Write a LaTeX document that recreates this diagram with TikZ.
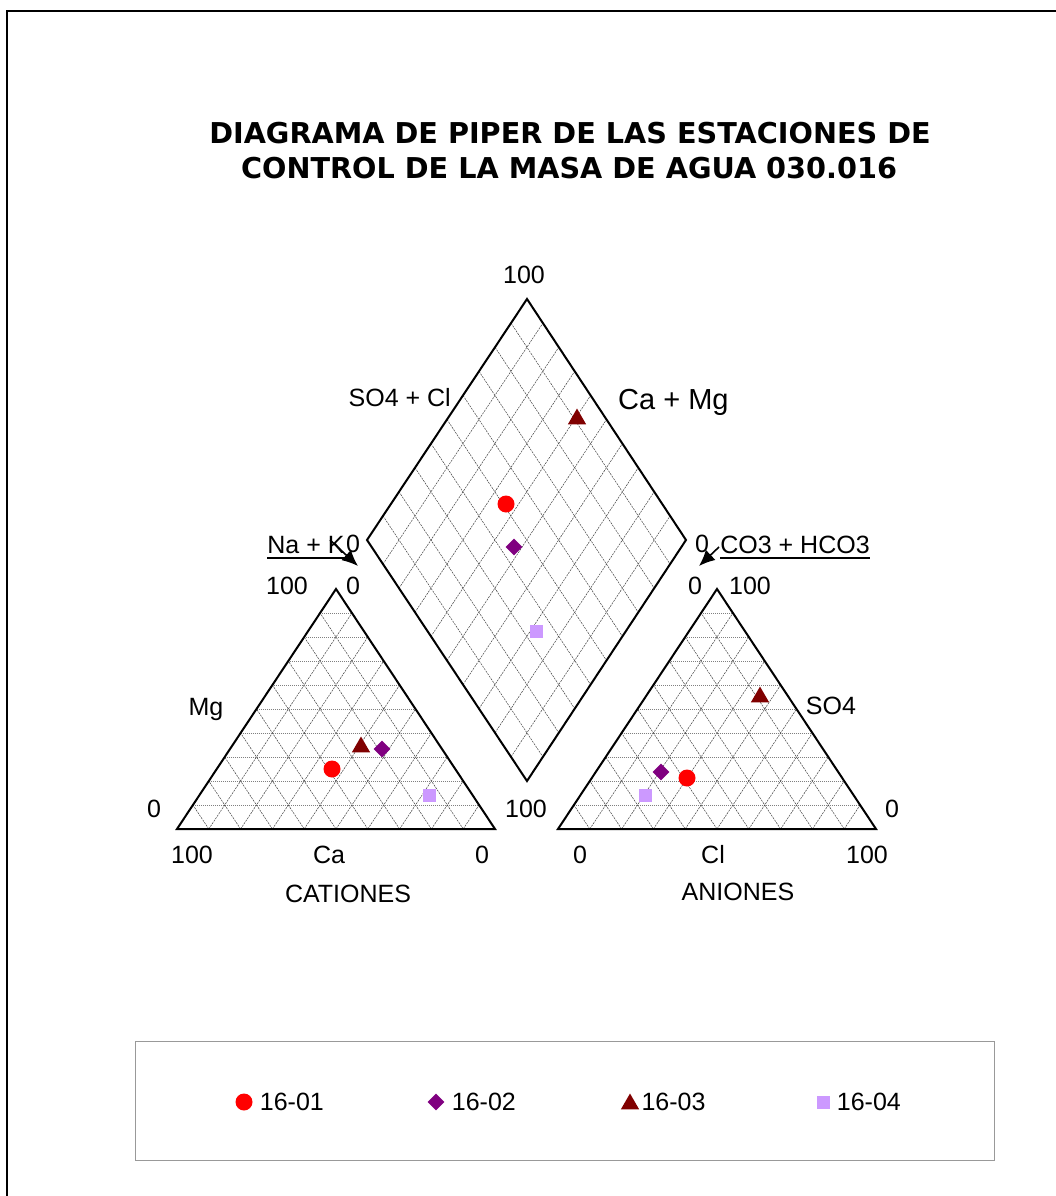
\documentclass[tikz,border=0pt]{standalone}
\usepackage{fontspec}
\setmainfont{Liberation Sans}
\newfontfamily\titlefont{DejaVu Sans}
\usetikzlibrary{positioning,arrows.meta}
\usetikzlibrary{calc}
\usetikzlibrary{shapes.geometric}

\definecolor{mkred}{RGB}{255,0,0}
\definecolor{mkpurple}{RGB}{128,0,128}
\definecolor{mkmaroon}{RGB}{128,0,0}
\definecolor{mklilac}{RGB}{204,153,255}

\begin{document}
\begin{tikzpicture}[
    x=1pt, y=-1pt,
    % Outlines of the three fields
    field/.style={
        line width=2pt,
        line join=miter
    },
    % Grid lines
    hgrid/.style={
        line width=0.5pt,
        draw=black!50,
        dash pattern=on 1pt off 1pt
    },
    dgrid/.style={
        line width=0.5pt,
        draw=black!75,
        dash pattern=on 2pt off 1pt
    },
    % Texts
    lbl/.style={
        font=\fontsize{25}{30}\selectfont,
        inner sep=0pt
    },
    title/.style={
        font=\titlefont\bfseries\fontsize{28.7}{34}\selectfont,
        inner sep=0pt
    },
    % Arrow
    arrow/.style={
        -{Latex[length=16pt,width=14pt]},
        line width=1.6pt
    },
    % Sample markers
    pt01/.style={circle, fill=mkred, inner sep=0pt, minimum size=17},
    pt02/.style={diamond, fill=mkpurple, inner sep=0pt, minimum size=17},
    pt03/.style={regular polygon, regular polygon sides=3, fill=mkmaroon, inner sep=0pt, minimum size=21},
    pt04/.style={rectangle, fill=mklilac, inner sep=0pt, minimum size=13}
]

\useasboundingbox (0,0) rectangle (1056,1196);

% Frame
\draw[line width=1.5pt] (7,1196) -- (7,11) -- (1056,11);

% Title
\node[title, anchor=base] (title1) at (570,143) {DIAGRAMA DE PIPER DE LAS ESTACIONES DE};
\node[title, anchor=base] (title2) at (569,178) {CONTROL DE LA MASA DE AGUA 030.016};

% Corners of the fields
\coordinate (cA) at (177,829);
\coordinate (cB) at (495,829);
\coordinate (cC) at (336,589);
\coordinate (aA) at (558,829);
\coordinate (aB) at (876,829);
\coordinate (aC) at (717,589);
\coordinate (dT) at (527,299);
\coordinate (dL) at (367,540);
\coordinate (dR) at (686,540);
\coordinate (dB) at (527,781);

% Grids
\foreach \k in {1,...,9} {
    % cations
    \draw[hgrid] ($(cA)!\k/10!(cC)$) -- ($(cB)!\k/10!(cC)$);
    \draw[dgrid] ($(cA)!\k/10!(cB)$) -- ($(cC)!\k/10!(cB)$);
    \draw[dgrid] ($(cB)!\k/10!(cA)$) -- ($(cC)!\k/10!(cA)$);
    % anions
    \draw[hgrid] ($(aA)!\k/10!(aC)$) -- ($(aB)!\k/10!(aC)$);
    \draw[dgrid] ($(aA)!\k/10!(aB)$) -- ($(aC)!\k/10!(aB)$);
    \draw[dgrid] ($(aB)!\k/10!(aA)$) -- ($(aC)!\k/10!(aA)$);
    % diamond
    \draw[dgrid] ($(dL)!\k/10!(dB)$) -- ($(dT)!\k/10!(dR)$);
    \draw[dgrid] ($(dL)!\k/10!(dT)$) -- ($(dB)!\k/10!(dR)$);
}

% Outlines
\draw[field] (cA) -- (cB) -- (cC) -- cycle;
\draw[field] (aA) -- (aB) -- (aC) -- cycle;
\draw[field] (dT) -- (dR) -- (dB) -- (dL) -- cycle;

% Diamond labels
\node[lbl, anchor=base] (dtop) at (524,283) {100};
\node[lbl, anchor=base east] (dso4cl) at (451,406) {SO4 + Cl};
\node[lbl, anchor=base west, font=\fontsize{29}{34}\selectfont] (dcamg) at (618,409) {Ca + Mg};
\node[lbl, anchor=base] (dleft) at (353,552) {0};
\node[lbl, anchor=base] (dright) at (702,552) {0};
\node[lbl, anchor=base] (dbottom) at (526,817) {100};

% Cation labels
\node[lbl, anchor=base] (nak) at (306,553) {Na + K};
\node[lbl, anchor=base] (c100top) at (287,594) {100};
\node[lbl, anchor=base] (c0top) at (353,594) {0};
\node[lbl, anchor=base] (cmg) at (206,715) {Mg};
\node[lbl, anchor=base] (c0left) at (154,817) {0};
\node[lbl, anchor=base] (c100) at (192,863) {100};
\node[lbl, anchor=base] (cca) at (329,863) {Ca};
\node[lbl, anchor=base] (c0) at (482,863) {0};
\node[lbl, anchor=base] (cations) at (348,902) {CATIONES};

% Anion labels
\node[lbl, anchor=base] (co3) at (795,553) {CO3 + HCO3};
\node[lbl, anchor=base] (a0top) at (695,594) {0};
\node[lbl, anchor=base] (a100top) at (750,594) {100};
\node[lbl, anchor=base] (aso4) at (831,714) {SO4};
\node[lbl, anchor=base] (a0right) at (892,817) {0};
\node[lbl, anchor=base] (a0) at (580,863) {0};
\node[lbl, anchor=base] (acl) at (713,863) {Cl};
\node[lbl, anchor=base] (a100) at (867,863) {100};
\node[lbl, anchor=base] (aniones) at (738,900) {ANIONES};

% Underlines and arrows
\draw[line width=1.6pt] ([yshift=-5pt]nak.base west) -- ([yshift=-5pt]nak.base east);
\draw[line width=1.6pt] ([yshift=-5pt]co3.base west) -- ([yshift=-5pt]co3.base east);
\coordinate (nakFrom) at (330,540);
\coordinate (nakTip) at (358,566);
\coordinate (co3From) at (719,547);
\coordinate (co3Tip) at (699,566);
\draw[arrow] (nakFrom) -- (nakTip);
\draw[arrow] (co3From) -- (co3Tip);

% Samples in the cation field
\node[pt01] (c01) at (332,769) {};
\node[pt02] (c02) at (382,749) {};
\node[pt03] (c03) at (361,747) {};
\node[pt04] (c04) at (429,795) {};

% Samples in the anion field
\node[pt01] (a01) at (687,778) {};
\node[pt02] (a02) at (661,772) {};
\node[pt03] (a03) at (760,697) {};
\node[pt04] (a04) at (645,795) {};

% Samples in the diamond
\node[pt01] (d01) at (506,504) {};
\node[pt02] (d02) at (514,547) {};
\node[pt03] (d03) at (577,419) {};
\node[pt04] (d04) at (536,631) {};

% Legend
\node[draw=black!40, line width=1pt, minimum width=859, minimum height=119, anchor=north west, inner sep=0pt] (legend) at (135,1041) {};
\node[pt01] (l01) at (244,1102) {};
\node[lbl, right=7pt of l01] (t01) {16-01};
\node[pt02] (l02) at (436,1102) {};
\node[lbl, right=7pt of l02] (t02) {16-02};
\node[pt03] (l03) at (630,1104) {};
\node[lbl, right=5pt of l03, yshift=2pt] (t03) {16-03};
\node[pt04] (l04) at (823,1102) {};
\node[lbl, right=7pt of l04] (t04) {16-04};

\end{tikzpicture}
\end{document}
